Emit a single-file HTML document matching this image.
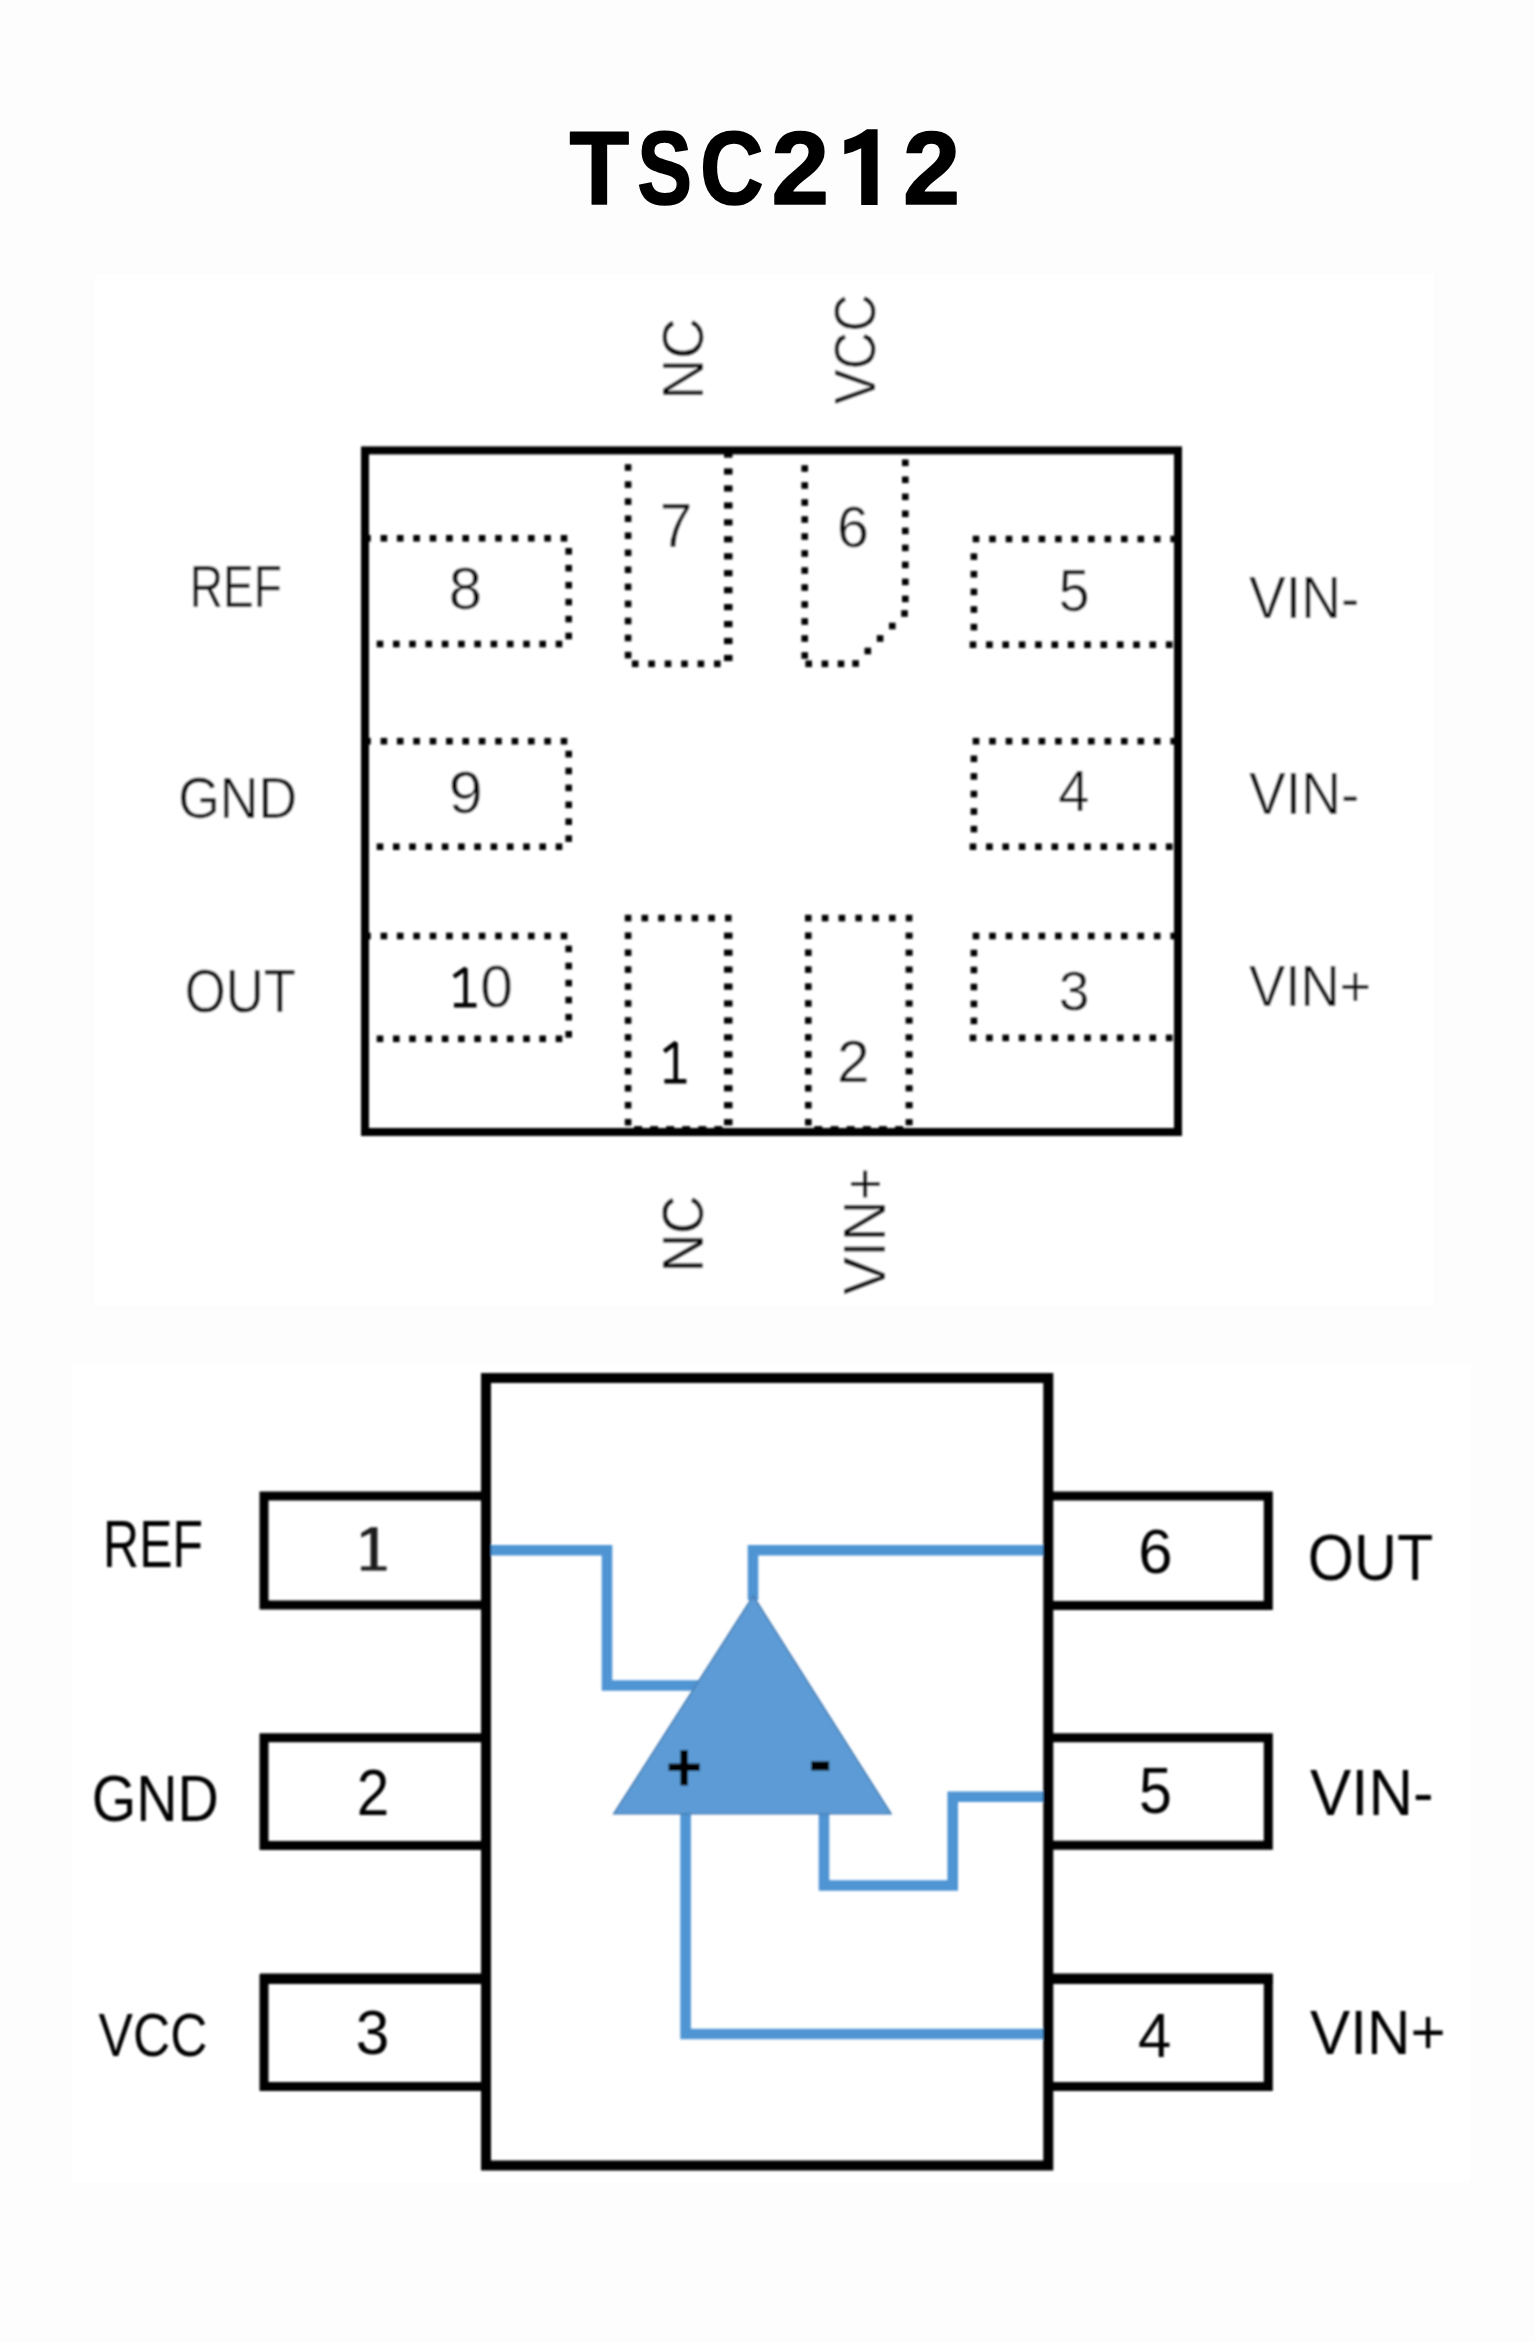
<!DOCTYPE html>
<html><head><meta charset="utf-8"><title>TSC212</title>
<style>
html,body{margin:0;padding:0;background:#fdfdfd;}
body{width:1535px;height:2342px;position:relative;overflow:hidden;font-family:"Liberation Sans",sans-serif;}
</style></head><body>
<svg width="1535" height="2342" viewBox="0 0 1535 2342" style="position:absolute;left:0;top:0;font-family:'Liberation Sans',sans-serif" fill="#000">
<rect x="0" y="0" width="1535" height="2342" fill="#fdfdfd"/>
<rect x="95" y="274.5" width="1339" height="1031.5" fill="#fff"/>
<rect x="72" y="1364.5" width="1398" height="817.5" fill="#fff"/>
<defs><filter id="b1" x="0" y="0" width="1535" height="2342" filterUnits="userSpaceOnUse"><feGaussianBlur stdDeviation="0.9"/></filter>
<filter id="b2" x="0" y="0" width="1535" height="2342" filterUnits="userSpaceOnUse"><feGaussianBlur stdDeviation="1.0"/></filter></defs>
<g id="title">
<text transform="matrix(0.9770 0 0 1.0465 569.40 203.85)" font-size="100" font-weight="700" stroke="#000" stroke-width="1.6" stroke-linejoin="round">T</text>
<text transform="matrix(0.8210 0 0 1.0465 637.26 203.85)" font-size="100" font-weight="700" stroke="#000" stroke-width="1.6" stroke-linejoin="round">S</text>
<text transform="matrix(0.8821 0 0 1.0465 700.05 203.85)" font-size="100" font-weight="700" stroke="#000" stroke-width="1.6" stroke-linejoin="round">C</text>
<text transform="matrix(1.0347 0 0 1.0465 771.50 203.85)" font-size="100" font-weight="700" stroke="#000" stroke-width="1.6" stroke-linejoin="round">2</text>
<path d="M866.8,129.3 H877.6 V204.9 H861.2 V148.2 Q853,152.3 844.3,154.3 V140.3 Q857,137 866.8,129.3 Z"/>
<text transform="matrix(1.0265 0 0 1.0465 903.12 203.85)" font-size="100" font-weight="700" stroke="#000" stroke-width="1.6" stroke-linejoin="round">2</text>
</g>
<g id="top" filter="url(#b1)">
<rect x="365" y="450.4" width="813" height="681.6" fill="none" stroke="#000" stroke-width="8"/>
<g id="dots">
<rect x="364.2" y="535.0" width="6.6" height="6.6"/>
<rect x="380.6" y="535.0" width="6.6" height="6.6"/>
<rect x="396.9" y="535.0" width="6.6" height="6.6"/>
<rect x="413.3" y="535.0" width="6.6" height="6.6"/>
<rect x="429.7" y="535.0" width="6.6" height="6.6"/>
<rect x="446.1" y="535.0" width="6.6" height="6.6"/>
<rect x="462.4" y="535.0" width="6.6" height="6.6"/>
<rect x="478.8" y="535.0" width="6.6" height="6.6"/>
<rect x="495.2" y="535.0" width="6.6" height="6.6"/>
<rect x="511.6" y="535.0" width="6.6" height="6.6"/>
<rect x="528.0" y="535.0" width="6.6" height="6.6"/>
<rect x="544.3" y="535.0" width="6.6" height="6.6"/>
<rect x="560.7" y="535.0" width="6.6" height="6.6"/>
<rect x="565.4" y="548.0" width="6.6" height="6.6"/>
<rect x="565.4" y="564.9" width="6.6" height="6.6"/>
<rect x="565.4" y="581.9" width="6.6" height="6.6"/>
<rect x="565.4" y="598.8" width="6.6" height="6.6"/>
<rect x="565.4" y="615.8" width="6.6" height="6.6"/>
<rect x="565.4" y="632.7" width="6.6" height="6.6"/>
<rect x="376.7" y="640.7" width="6.6" height="6.6"/>
<rect x="393.0" y="640.7" width="6.6" height="6.6"/>
<rect x="409.2" y="640.7" width="6.6" height="6.6"/>
<rect x="425.5" y="640.7" width="6.6" height="6.6"/>
<rect x="441.8" y="640.7" width="6.6" height="6.6"/>
<rect x="458.1" y="640.7" width="6.6" height="6.6"/>
<rect x="474.3" y="640.7" width="6.6" height="6.6"/>
<rect x="490.6" y="640.7" width="6.6" height="6.6"/>
<rect x="506.9" y="640.7" width="6.6" height="6.6"/>
<rect x="523.2" y="640.7" width="6.6" height="6.6"/>
<rect x="539.4" y="640.7" width="6.6" height="6.6"/>
<rect x="555.7" y="640.7" width="6.6" height="6.6"/>
<rect x="364.2" y="737.9" width="6.6" height="6.6"/>
<rect x="380.6" y="737.9" width="6.6" height="6.6"/>
<rect x="396.9" y="737.9" width="6.6" height="6.6"/>
<rect x="413.3" y="737.9" width="6.6" height="6.6"/>
<rect x="429.7" y="737.9" width="6.6" height="6.6"/>
<rect x="446.1" y="737.9" width="6.6" height="6.6"/>
<rect x="462.4" y="737.9" width="6.6" height="6.6"/>
<rect x="478.8" y="737.9" width="6.6" height="6.6"/>
<rect x="495.2" y="737.9" width="6.6" height="6.6"/>
<rect x="511.6" y="737.9" width="6.6" height="6.6"/>
<rect x="528.0" y="737.9" width="6.6" height="6.6"/>
<rect x="544.3" y="737.9" width="6.6" height="6.6"/>
<rect x="560.7" y="737.9" width="6.6" height="6.6"/>
<rect x="565.4" y="750.8" width="6.6" height="6.6"/>
<rect x="565.4" y="767.7" width="6.6" height="6.6"/>
<rect x="565.4" y="784.6" width="6.6" height="6.6"/>
<rect x="565.4" y="801.5" width="6.6" height="6.6"/>
<rect x="565.4" y="818.4" width="6.6" height="6.6"/>
<rect x="565.4" y="835.3" width="6.6" height="6.6"/>
<rect x="376.7" y="843.4" width="6.6" height="6.6"/>
<rect x="393.0" y="843.4" width="6.6" height="6.6"/>
<rect x="409.2" y="843.4" width="6.6" height="6.6"/>
<rect x="425.5" y="843.4" width="6.6" height="6.6"/>
<rect x="441.8" y="843.4" width="6.6" height="6.6"/>
<rect x="458.1" y="843.4" width="6.6" height="6.6"/>
<rect x="474.3" y="843.4" width="6.6" height="6.6"/>
<rect x="490.6" y="843.4" width="6.6" height="6.6"/>
<rect x="506.9" y="843.4" width="6.6" height="6.6"/>
<rect x="523.2" y="843.4" width="6.6" height="6.6"/>
<rect x="539.4" y="843.4" width="6.6" height="6.6"/>
<rect x="555.7" y="843.4" width="6.6" height="6.6"/>
<rect x="364.2" y="932.7" width="6.6" height="6.6"/>
<rect x="380.6" y="932.7" width="6.6" height="6.6"/>
<rect x="396.9" y="932.7" width="6.6" height="6.6"/>
<rect x="413.3" y="932.7" width="6.6" height="6.6"/>
<rect x="429.7" y="932.7" width="6.6" height="6.6"/>
<rect x="446.1" y="932.7" width="6.6" height="6.6"/>
<rect x="462.4" y="932.7" width="6.6" height="6.6"/>
<rect x="478.8" y="932.7" width="6.6" height="6.6"/>
<rect x="495.2" y="932.7" width="6.6" height="6.6"/>
<rect x="511.6" y="932.7" width="6.6" height="6.6"/>
<rect x="528.0" y="932.7" width="6.6" height="6.6"/>
<rect x="544.3" y="932.7" width="6.6" height="6.6"/>
<rect x="560.7" y="932.7" width="6.6" height="6.6"/>
<rect x="565.4" y="945.6" width="6.6" height="6.6"/>
<rect x="565.4" y="962.7" width="6.6" height="6.6"/>
<rect x="565.4" y="979.8" width="6.6" height="6.6"/>
<rect x="565.4" y="996.8" width="6.6" height="6.6"/>
<rect x="565.4" y="1013.9" width="6.6" height="6.6"/>
<rect x="565.4" y="1031.0" width="6.6" height="6.6"/>
<rect x="376.7" y="1035.5" width="6.6" height="6.6"/>
<rect x="393.0" y="1035.5" width="6.6" height="6.6"/>
<rect x="409.2" y="1035.5" width="6.6" height="6.6"/>
<rect x="425.5" y="1035.5" width="6.6" height="6.6"/>
<rect x="441.8" y="1035.5" width="6.6" height="6.6"/>
<rect x="458.1" y="1035.5" width="6.6" height="6.6"/>
<rect x="474.3" y="1035.5" width="6.6" height="6.6"/>
<rect x="490.6" y="1035.5" width="6.6" height="6.6"/>
<rect x="506.9" y="1035.5" width="6.6" height="6.6"/>
<rect x="523.2" y="1035.5" width="6.6" height="6.6"/>
<rect x="539.4" y="1035.5" width="6.6" height="6.6"/>
<rect x="555.7" y="1035.5" width="6.6" height="6.6"/>
<rect x="972.7" y="535.7" width="6.6" height="6.6"/>
<rect x="989.2" y="535.7" width="6.6" height="6.6"/>
<rect x="1005.7" y="535.7" width="6.6" height="6.6"/>
<rect x="1022.1" y="535.7" width="6.6" height="6.6"/>
<rect x="1038.6" y="535.7" width="6.6" height="6.6"/>
<rect x="1055.1" y="535.7" width="6.6" height="6.6"/>
<rect x="1071.5" y="535.7" width="6.6" height="6.6"/>
<rect x="1088.0" y="535.7" width="6.6" height="6.6"/>
<rect x="1104.5" y="535.7" width="6.6" height="6.6"/>
<rect x="1121.0" y="535.7" width="6.6" height="6.6"/>
<rect x="1137.5" y="535.7" width="6.6" height="6.6"/>
<rect x="1153.9" y="535.7" width="6.6" height="6.6"/>
<rect x="1170.4" y="535.7" width="6.6" height="6.6"/>
<rect x="970.6" y="553.3" width="6.6" height="6.6"/>
<rect x="970.6" y="570.9" width="6.6" height="6.6"/>
<rect x="970.6" y="588.6" width="6.6" height="6.6"/>
<rect x="970.6" y="606.2" width="6.6" height="6.6"/>
<rect x="970.6" y="623.8" width="6.6" height="6.6"/>
<rect x="969.7" y="641.4" width="6.6" height="6.6"/>
<rect x="986.1" y="641.4" width="6.6" height="6.6"/>
<rect x="1002.4" y="641.4" width="6.6" height="6.6"/>
<rect x="1018.8" y="641.4" width="6.6" height="6.6"/>
<rect x="1035.1" y="641.4" width="6.6" height="6.6"/>
<rect x="1051.5" y="641.4" width="6.6" height="6.6"/>
<rect x="1067.8" y="641.4" width="6.6" height="6.6"/>
<rect x="1084.2" y="641.4" width="6.6" height="6.6"/>
<rect x="1100.5" y="641.4" width="6.6" height="6.6"/>
<rect x="1116.9" y="641.4" width="6.6" height="6.6"/>
<rect x="1133.2" y="641.4" width="6.6" height="6.6"/>
<rect x="1149.5" y="641.4" width="6.6" height="6.6"/>
<rect x="1165.9" y="641.4" width="6.6" height="6.6"/>
<rect x="972.7" y="737.9" width="6.6" height="6.6"/>
<rect x="989.2" y="737.9" width="6.6" height="6.6"/>
<rect x="1005.7" y="737.9" width="6.6" height="6.6"/>
<rect x="1022.1" y="737.9" width="6.6" height="6.6"/>
<rect x="1038.6" y="737.9" width="6.6" height="6.6"/>
<rect x="1055.1" y="737.9" width="6.6" height="6.6"/>
<rect x="1071.5" y="737.9" width="6.6" height="6.6"/>
<rect x="1088.0" y="737.9" width="6.6" height="6.6"/>
<rect x="1104.5" y="737.9" width="6.6" height="6.6"/>
<rect x="1121.0" y="737.9" width="6.6" height="6.6"/>
<rect x="1137.5" y="737.9" width="6.6" height="6.6"/>
<rect x="1153.9" y="737.9" width="6.6" height="6.6"/>
<rect x="1170.4" y="737.9" width="6.6" height="6.6"/>
<rect x="970.6" y="755.5" width="6.6" height="6.6"/>
<rect x="970.6" y="773.1" width="6.6" height="6.6"/>
<rect x="970.6" y="790.7" width="6.6" height="6.6"/>
<rect x="970.6" y="808.2" width="6.6" height="6.6"/>
<rect x="970.6" y="825.8" width="6.6" height="6.6"/>
<rect x="969.7" y="843.4" width="6.6" height="6.6"/>
<rect x="986.1" y="843.4" width="6.6" height="6.6"/>
<rect x="1002.4" y="843.4" width="6.6" height="6.6"/>
<rect x="1018.8" y="843.4" width="6.6" height="6.6"/>
<rect x="1035.1" y="843.4" width="6.6" height="6.6"/>
<rect x="1051.5" y="843.4" width="6.6" height="6.6"/>
<rect x="1067.8" y="843.4" width="6.6" height="6.6"/>
<rect x="1084.2" y="843.4" width="6.6" height="6.6"/>
<rect x="1100.5" y="843.4" width="6.6" height="6.6"/>
<rect x="1116.9" y="843.4" width="6.6" height="6.6"/>
<rect x="1133.2" y="843.4" width="6.6" height="6.6"/>
<rect x="1149.5" y="843.4" width="6.6" height="6.6"/>
<rect x="1165.9" y="843.4" width="6.6" height="6.6"/>
<rect x="972.7" y="932.7" width="6.6" height="6.6"/>
<rect x="989.2" y="932.7" width="6.6" height="6.6"/>
<rect x="1005.7" y="932.7" width="6.6" height="6.6"/>
<rect x="1022.1" y="932.7" width="6.6" height="6.6"/>
<rect x="1038.6" y="932.7" width="6.6" height="6.6"/>
<rect x="1055.1" y="932.7" width="6.6" height="6.6"/>
<rect x="1071.5" y="932.7" width="6.6" height="6.6"/>
<rect x="1088.0" y="932.7" width="6.6" height="6.6"/>
<rect x="1104.5" y="932.7" width="6.6" height="6.6"/>
<rect x="1121.0" y="932.7" width="6.6" height="6.6"/>
<rect x="1137.5" y="932.7" width="6.6" height="6.6"/>
<rect x="1153.9" y="932.7" width="6.6" height="6.6"/>
<rect x="1170.4" y="932.7" width="6.6" height="6.6"/>
<rect x="970.6" y="949.7" width="6.6" height="6.6"/>
<rect x="970.6" y="966.7" width="6.6" height="6.6"/>
<rect x="970.6" y="983.7" width="6.6" height="6.6"/>
<rect x="970.6" y="1000.6" width="6.6" height="6.6"/>
<rect x="970.6" y="1017.6" width="6.6" height="6.6"/>
<rect x="969.7" y="1034.6" width="6.6" height="6.6"/>
<rect x="986.1" y="1034.6" width="6.6" height="6.6"/>
<rect x="1002.4" y="1034.6" width="6.6" height="6.6"/>
<rect x="1018.8" y="1034.6" width="6.6" height="6.6"/>
<rect x="1035.1" y="1034.6" width="6.6" height="6.6"/>
<rect x="1051.5" y="1034.6" width="6.6" height="6.6"/>
<rect x="1067.8" y="1034.6" width="6.6" height="6.6"/>
<rect x="1084.2" y="1034.6" width="6.6" height="6.6"/>
<rect x="1100.5" y="1034.6" width="6.6" height="6.6"/>
<rect x="1116.9" y="1034.6" width="6.6" height="6.6"/>
<rect x="1133.2" y="1034.6" width="6.6" height="6.6"/>
<rect x="1149.5" y="1034.6" width="6.6" height="6.6"/>
<rect x="1165.9" y="1034.6" width="6.6" height="6.6"/>
<rect x="624.8" y="464.2" width="6.6" height="6.6"/>
<rect x="624.8" y="481.3" width="6.6" height="6.6"/>
<rect x="624.8" y="498.3" width="6.6" height="6.6"/>
<rect x="624.8" y="515.4" width="6.6" height="6.6"/>
<rect x="624.8" y="532.4" width="6.6" height="6.6"/>
<rect x="624.8" y="549.5" width="6.6" height="6.6"/>
<rect x="624.8" y="566.5" width="6.6" height="6.6"/>
<rect x="624.8" y="583.6" width="6.6" height="6.6"/>
<rect x="624.8" y="600.6" width="6.6" height="6.6"/>
<rect x="624.8" y="617.7" width="6.6" height="6.6"/>
<rect x="624.8" y="634.7" width="6.6" height="6.6"/>
<rect x="624.8" y="651.8" width="6.6" height="6.6"/>
<rect x="724.0" y="451.5" width="8.5" height="6.2"/>
<rect x="724.0" y="468.4" width="8.5" height="6.2"/>
<rect x="724.0" y="485.4" width="8.5" height="6.2"/>
<rect x="724.0" y="502.4" width="8.5" height="6.2"/>
<rect x="724.0" y="519.3" width="8.5" height="6.2"/>
<rect x="724.0" y="536.2" width="8.5" height="6.2"/>
<rect x="724.0" y="553.2" width="8.5" height="6.2"/>
<rect x="724.0" y="570.1" width="8.5" height="6.2"/>
<rect x="724.0" y="587.1" width="8.5" height="6.2"/>
<rect x="724.0" y="604.0" width="8.5" height="6.2"/>
<rect x="724.0" y="621.0" width="8.5" height="6.2"/>
<rect x="724.0" y="637.9" width="8.5" height="6.2"/>
<rect x="724.0" y="654.9" width="8.5" height="6.2"/>
<rect x="631.9" y="660.5" width="6.6" height="6.6"/>
<rect x="648.3" y="660.5" width="6.6" height="6.6"/>
<rect x="664.7" y="660.5" width="6.6" height="6.6"/>
<rect x="681.2" y="660.5" width="6.6" height="6.6"/>
<rect x="697.6" y="660.5" width="6.6" height="6.6"/>
<rect x="714.0" y="660.5" width="6.6" height="6.6"/>
<rect x="801.4" y="465.2" width="6.6" height="6.6"/>
<rect x="801.4" y="482.2" width="6.6" height="6.6"/>
<rect x="801.4" y="499.2" width="6.6" height="6.6"/>
<rect x="801.4" y="516.2" width="6.6" height="6.6"/>
<rect x="801.4" y="533.2" width="6.6" height="6.6"/>
<rect x="801.4" y="550.2" width="6.6" height="6.6"/>
<rect x="801.4" y="567.2" width="6.6" height="6.6"/>
<rect x="801.4" y="584.2" width="6.6" height="6.6"/>
<rect x="801.4" y="601.2" width="6.6" height="6.6"/>
<rect x="801.4" y="618.2" width="6.6" height="6.6"/>
<rect x="801.4" y="635.2" width="6.6" height="6.6"/>
<rect x="801.4" y="652.2" width="6.6" height="6.6"/>
<rect x="902.0" y="459.5" width="6.6" height="6.6"/>
<rect x="902.0" y="476.5" width="6.6" height="6.6"/>
<rect x="902.0" y="493.5" width="6.6" height="6.6"/>
<rect x="902.0" y="510.5" width="6.6" height="6.6"/>
<rect x="902.0" y="527.6" width="6.6" height="6.6"/>
<rect x="902.0" y="544.6" width="6.6" height="6.6"/>
<rect x="902.0" y="561.6" width="6.6" height="6.6"/>
<rect x="902.0" y="578.6" width="6.6" height="6.6"/>
<rect x="902.0" y="595.6" width="6.6" height="6.6"/>
<rect x="901.2" y="610.2" width="6.6" height="6.6"/>
<rect x="889.0" y="622.7" width="6.6" height="6.6"/>
<rect x="876.8" y="635.2" width="6.6" height="6.6"/>
<rect x="864.5" y="647.7" width="6.6" height="6.6"/>
<rect x="852.3" y="660.2" width="6.6" height="6.6"/>
<rect x="805.4" y="660.5" width="6.6" height="6.6"/>
<rect x="821.6" y="660.5" width="6.6" height="6.6"/>
<rect x="837.7" y="660.5" width="6.6" height="6.6"/>
<rect x="624.8" y="914.8" width="6.6" height="6.6"/>
<rect x="641.5" y="914.8" width="6.6" height="6.6"/>
<rect x="658.2" y="914.8" width="6.6" height="6.6"/>
<rect x="674.9" y="914.8" width="6.6" height="6.6"/>
<rect x="691.6" y="914.8" width="6.6" height="6.6"/>
<rect x="708.3" y="914.8" width="6.6" height="6.6"/>
<rect x="725.0" y="914.8" width="6.6" height="6.6"/>
<rect x="624.8" y="932.4" width="6.6" height="6.6"/>
<rect x="624.8" y="949.4" width="6.6" height="6.6"/>
<rect x="624.8" y="966.3" width="6.6" height="6.6"/>
<rect x="624.8" y="983.3" width="6.6" height="6.6"/>
<rect x="624.8" y="1000.2" width="6.6" height="6.6"/>
<rect x="624.8" y="1017.2" width="6.6" height="6.6"/>
<rect x="624.8" y="1034.1" width="6.6" height="6.6"/>
<rect x="624.8" y="1051.1" width="6.6" height="6.6"/>
<rect x="624.8" y="1068.0" width="6.6" height="6.6"/>
<rect x="624.8" y="1085.0" width="6.6" height="6.6"/>
<rect x="624.8" y="1101.9" width="6.6" height="6.6"/>
<rect x="624.8" y="1118.9" width="6.6" height="6.6"/>
<rect x="724.0" y="932.6" width="8.5" height="6.2"/>
<rect x="724.0" y="949.6" width="8.5" height="6.2"/>
<rect x="724.0" y="966.5" width="8.5" height="6.2"/>
<rect x="724.0" y="983.5" width="8.5" height="6.2"/>
<rect x="724.0" y="1000.4" width="8.5" height="6.2"/>
<rect x="724.0" y="1017.4" width="8.5" height="6.2"/>
<rect x="724.0" y="1034.3" width="8.5" height="6.2"/>
<rect x="724.0" y="1051.3" width="8.5" height="6.2"/>
<rect x="724.0" y="1068.2" width="8.5" height="6.2"/>
<rect x="724.0" y="1085.2" width="8.5" height="6.2"/>
<rect x="724.0" y="1102.1" width="8.5" height="6.2"/>
<rect x="724.0" y="1119.1" width="8.5" height="6.2"/>
<rect x="634.1" y="1126.1" width="8" height="3"/>
<rect x="650.1" y="1126.1" width="8" height="3"/>
<rect x="666.2" y="1126.1" width="8" height="3"/>
<rect x="682.2" y="1126.1" width="8" height="3"/>
<rect x="698.3" y="1126.1" width="8" height="3"/>
<rect x="714.3" y="1126.1" width="8" height="3"/>
<rect x="805.0" y="914.8" width="6.6" height="6.6"/>
<rect x="821.8" y="914.8" width="6.6" height="6.6"/>
<rect x="838.6" y="914.8" width="6.6" height="6.6"/>
<rect x="855.4" y="914.8" width="6.6" height="6.6"/>
<rect x="872.2" y="914.8" width="6.6" height="6.6"/>
<rect x="889.0" y="914.8" width="6.6" height="6.6"/>
<rect x="905.8" y="914.8" width="6.6" height="6.6"/>
<rect x="805.0" y="932.4" width="6.6" height="6.6"/>
<rect x="805.0" y="949.4" width="6.6" height="6.6"/>
<rect x="805.0" y="966.3" width="6.6" height="6.6"/>
<rect x="805.0" y="983.3" width="6.6" height="6.6"/>
<rect x="805.0" y="1000.2" width="6.6" height="6.6"/>
<rect x="805.0" y="1017.2" width="6.6" height="6.6"/>
<rect x="805.0" y="1034.1" width="6.6" height="6.6"/>
<rect x="805.0" y="1051.1" width="6.6" height="6.6"/>
<rect x="805.0" y="1068.0" width="6.6" height="6.6"/>
<rect x="805.0" y="1085.0" width="6.6" height="6.6"/>
<rect x="805.0" y="1101.9" width="6.6" height="6.6"/>
<rect x="805.0" y="1118.9" width="6.6" height="6.6"/>
<rect x="905.6" y="932.6" width="7.0" height="6.2"/>
<rect x="905.6" y="949.6" width="7.0" height="6.2"/>
<rect x="905.6" y="966.5" width="7.0" height="6.2"/>
<rect x="905.6" y="983.5" width="7.0" height="6.2"/>
<rect x="905.6" y="1000.4" width="7.0" height="6.2"/>
<rect x="905.6" y="1017.4" width="7.0" height="6.2"/>
<rect x="905.6" y="1034.3" width="7.0" height="6.2"/>
<rect x="905.6" y="1051.3" width="7.0" height="6.2"/>
<rect x="905.6" y="1068.2" width="7.0" height="6.2"/>
<rect x="905.6" y="1085.2" width="7.0" height="6.2"/>
<rect x="905.6" y="1102.1" width="7.0" height="6.2"/>
<rect x="905.6" y="1119.1" width="7.0" height="6.2"/>
<rect x="814.3" y="1126.1" width="8" height="3"/>
<rect x="830.5" y="1126.1" width="8" height="3"/>
<rect x="846.6" y="1126.1" width="8" height="3"/>
<rect x="862.8" y="1126.1" width="8" height="3"/>
<rect x="878.9" y="1126.1" width="8" height="3"/>
<rect x="895.1" y="1126.1" width="8" height="3"/>
</g>
</g>
<g id="bottom" filter="url(#b2)">
<g fill="none" stroke="#5094d3" stroke-width="10.6" stroke-linejoin="miter">
<path d="M488,1550.2 H607 V1685.5 H700"/>
<path d="M753,1600 V1550.2 H1046"/>
<path d="M824,1810 V1885.5 H952.7 V1796.8 H1046"/>
<path d="M685.6,1810 V2034 H1046"/>
</g>
<path d="M753.2,1596 L891,1813.8 H613.8 Z" fill="#5b9bd5" stroke="#4a7fb6" stroke-width="1.6"/>
<path d="M668.6,1767.2 H699.8 M684.2,1750 V1785.5" stroke="#000" stroke-width="7.6" fill="none"/>
<rect x="811.2" y="1761.3" width="18" height="9.2" fill="#000"/>
<g fill="none" stroke="#000" stroke-width="9">
<path d="M486,1496 H264 V1604.9 H486"/>
<path d="M486,1737.8 H264 V1845.5 H486"/>
<path d="M486,1978.7 H264 V2086.6 H486"/>
<path d="M486,1978.7 H260 M1048,1978.7 H1272.8" stroke-width="10.6"/>
<path d="M1048,1496 H1268.3 V1605.5 H1048"/>
<path d="M1048,1737.8 H1268.3 V1845.3 H1048"/>
<path d="M1048,1978.7 H1268.3 V2086.6 H1048"/>
</g>
<rect x="486" y="1378" width="562.3" height="787.5" fill="none" stroke="#000" stroke-width="10"/>
</g>
<g id="labels" filter="url(#b1)">
<text transform="matrix(0 -0.5656 0.5681 0 703.20 399.49)" font-size="100" font-weight="400" stroke="#fff" stroke-width="0.8">NC</text>
<text transform="matrix(0 -0.5206 0.5754 0 874.90 404.14)" font-size="100" font-weight="400" stroke="#fff" stroke-width="0.8">VCC</text>
<text transform="matrix(0.5864 0 0 0.6206 659.78 546.72)" font-size="100" font-weight="400" stroke="#fff" stroke-width="0.8">7</text>
<text transform="matrix(0.5733 0 0 0.5783 836.96 547.30)" font-size="100" font-weight="400" stroke="#fff" stroke-width="0.8">6</text>
<text transform="matrix(0.5978 0 0 0.5870 448.71 609.40)" font-size="100" font-weight="400" stroke="#fff" stroke-width="0.8">8</text>
<text transform="matrix(0.5522 0 0 0.5956 1058.64 610.90)" font-size="100" font-weight="400" stroke="#fff" stroke-width="0.8">5</text>
<text transform="matrix(0.4615 0 0 0.5868 189.75 606.99)" font-size="100" font-weight="400" stroke="#fff" stroke-width="0.8">REF</text>
<text transform="matrix(0.5508 0 0 0.6000 1249.10 618.10)" font-size="100" font-weight="400" stroke="#fff" stroke-width="0.8">VIN-</text>
<text transform="matrix(0.6111 0 0 0.5870 448.64 813.20)" font-size="100" font-weight="400" stroke="#fff" stroke-width="0.8">9</text>
<text transform="matrix(0.5612 0 0 0.5735 1058.22 810.77)" font-size="100" font-weight="400" stroke="#fff" stroke-width="0.8">4</text>
<text transform="matrix(0.5351 0 0 0.5725 178.19 818.20)" font-size="100" font-weight="400" stroke="#fff" stroke-width="0.8">GND</text>
<text transform="matrix(0.5508 0 0 0.5955 1249.10 813.80)" font-size="100" font-weight="400" stroke="#fff" stroke-width="0.8">VIN-</text>
<text transform="matrix(0.5872 0 0 0.5870 480.15 1007.40)" font-size="100" font-weight="400" stroke="#fff" stroke-width="0.8">0</text>
<text transform="matrix(0.5522 0 0 0.5565 1058.64 1010.40)" font-size="100" font-weight="400" stroke="#fff" stroke-width="0.8">3</text>
<text transform="matrix(0.5271 0 0 0.6087 184.66 1011.90)" font-size="100" font-weight="400" stroke="#fff" stroke-width="0.8">OUT</text>
<text transform="matrix(0.5427 0 0 0.5821 1249.11 1005.58)" font-size="100" font-weight="400" stroke="#fff" stroke-width="0.8">VIN+</text>
<text transform="matrix(0.5864 0 0 0.5853 836.88 1081.69)" font-size="100" font-weight="400" stroke="#fff" stroke-width="0.8">2</text>
<text transform="matrix(0 -0.5298 0.5681 0 703.20 1272.07)" font-size="100" font-weight="400" stroke="#fff" stroke-width="0.8">NC</text>
<text transform="matrix(0 -0.5647 0.6015 0 884.80 1294.63)" font-size="100" font-weight="400" stroke="#fff" stroke-width="0.8">VIN+</text>
<text transform="matrix(0.4989 0 0 0.6667 103.11 1566.80)" font-size="100" font-weight="400">REF</text>
<text transform="matrix(0.6174 0 0 0.6338 1138.31 1572.87)" font-size="100" font-weight="400">6</text>
<text transform="matrix(0.5946 0 0 0.6549 1307.73 1579.75)" font-size="100" font-weight="400">OUT</text>
<text transform="matrix(0.5722 0 0 0.6549 91.64 1820.75)" font-size="100" font-weight="400">GND</text>
<text transform="matrix(0.5848 0 0 0.6429 356.78 1815.40)" font-size="100" font-weight="400">2</text>
<text transform="matrix(0.5915 0 0 0.6557 1139.03 1812.64)" font-size="100" font-weight="400">5</text>
<text transform="matrix(0.6174 0 0 0.6522 1310.08 1815.40)" font-size="100" font-weight="400">VIN-</text>
<text transform="matrix(0.5160 0 0 0.6113 98.48 2055.99)" font-size="100" font-weight="400">VCC</text>
<text transform="matrix(0.6043 0 0 0.6324 355.78 2054.47)" font-size="100" font-weight="400">3</text>
<text transform="matrix(0.5980 0 0 0.6382 1138.10 2057.24)" font-size="100" font-weight="400">4</text>
<text transform="matrix(0.6018 0 0 0.6290 1310.10 2053.60)" font-size="100" font-weight="400">VIN+</text>
<path d="M664.20,1051.56 L675.68,1042.74 V1081.30 M664.40,1081.30 H686.40" fill="none" stroke="#000" stroke-width="4.4" stroke-linejoin="miter" stroke-miterlimit="2"/>
<path d="M453.80,976.82 L465.55,968.40 V1005.25 M454.00,1005.25 H476.50" fill="none" stroke="#000" stroke-width="4.3" stroke-linejoin="miter" stroke-miterlimit="2"/>
<path d="M370.6,1527.2 H377.4 V1570.6 H370.6 Z M361,1566.4 H386.6 V1570.6 H361 Z M371,1527.2 V1533 L361.2,1537.6 V1533 Z" fill="#1c1c1c"/>
</g>
</svg>
</body></html>
